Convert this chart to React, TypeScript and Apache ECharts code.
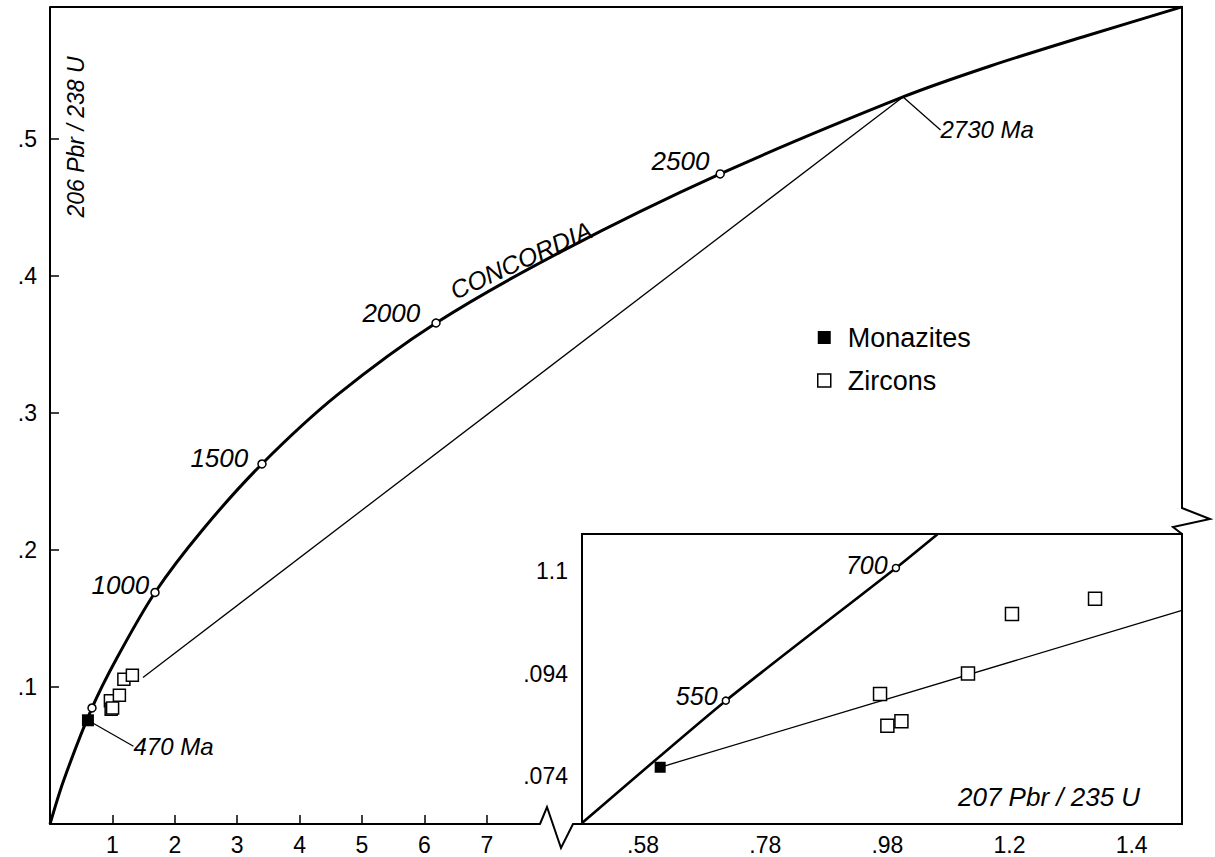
import React, { useEffect, useRef } from "react";
import * as echarts from "echarts";

// ---- Main diagram (207Pb/235U vs 206Pb/238U) ----
const concordiaX = [0, 0.22, 0.673, 1.07, 1.683, 2.45, 3.397, 4.6, 6.186, 8.2, 10.74, 13.67, 15.07, 16.6, 18.14];
const concordiaY = [0, 0.032, 0.0847, 0.121, 0.169, 0.215, 0.2628, 0.313, 0.3657, 0.418, 0.4745, 0.5307, 0.5533, 0.5752, 0.5964];

const ageMarkX = [0.673, 1.683, 3.397, 6.186, 10.74];
const ageMarkY = [0.0847, 0.169, 0.2628, 0.3657, 0.4745];
const ageMarkLabels = ["", "1000", "1500", "2000", "2500"];

const upperIntercept = [13.67, 0.5307];
const upperInterceptLabel = "2730 Ma";
const lowerInterceptLabel = "470 Ma";
const mainDiscordiaX = [1.49, 13.67];
const mainDiscordiaY = [0.107, 0.5307];

const monaziteX = [0.608];
const monaziteY = [0.0757];
const zirconX = [0.968, 0.98, 1.003, 1.112, 1.184, 1.32];
const zirconY = [0.09, 0.0838, 0.0847, 0.094, 0.1056, 0.1086];

const mainXTicks = [1, 2, 3, 4, 5, 6, 7];
const mainYTicks = [0.1, 0.2, 0.3, 0.4, 0.5];

// ---- Inset (enlarged lower part) ----
const insetConcordiaX = [0.48, 0.7155, 0.994, 1.062];
const insetConcordiaY = [0.0648, 0.0887, 0.1146, 0.1212];
const insetAgeX = [0.7155, 0.994];
const insetAgeY = [0.0887, 0.1146];
const insetAgeLabels = ["550", "700"];
const insetDiscordiaX = [0.608, 1.4624];
const insetDiscordiaY = [0.0757, 0.1063];

const insetXTicks = [0.58, 0.68, 0.78, 0.88, 0.98, 1.08, 1.18, 1.28, 1.38];
const insetXLabelValues = [0.58, 0.78, 0.98, 1.18, 1.38];
const insetXLabelTexts = [".58", ".78", ".98", "1.2", "1.4"];
const insetYTicks = [0.074, 0.084, 0.094, 0.104, 0.114];
const insetYLabelValues = [0.074, 0.094, 0.114];
const insetYLabelTexts = [".074", ".094", "1.1"];

const FONT = "'Liberation Sans', Arial, Helvetica, sans-serif";
const pairs = (xs: number[], ys: number[]) => xs.map((x, i) => [x, ys[i]]);
const pick = (vals: number[], texts: string[]) => (v: number) => {
  const i = vals.findIndex((u) => Math.abs(u - v) < 1e-6);
  return i >= 0 ? texts[i] : "";
};

// label placement styling for the age marks (distance from circle, vertical shift)
const AGE_LABEL_STYLE: Record<string, { distance: number; dy: number }> = {
  "1000": { distance: 1, dy: -7 },
  "1500": { distance: 9, dy: -6 },
  "2000": { distance: 11, dy: -10 },
  "2500": { distance: 6, dy: -13 },
  "550": { distance: 4, dy: -5 },
  "700": { distance: 4, dy: -3 },
};

export default function App() {
  const ref = useRef<HTMLDivElement>(null);
  useEffect(() => {
    if (!ref.current) return;
    const chart = echarts.init(ref.current, null, { renderer: "svg" });
    const black = "#000";
    const tickLabel = { color: black, fontSize: 23, fontFamily: FONT };
    const italic = { color: black, fontSize: 24, fontStyle: "italic", fontFamily: FONT, opacity: 1 };
    const ageLabel = (t: string, size: number) => {
      const s = AGE_LABEL_STYLE[t] || { distance: 3, dy: -8 };
      return { show: !!t, position: "left", distance: s.distance, offset: [0, s.dy], ...italic, fontSize: size, formatter: t };
    };
    const option: any = {
      animation: false,
      backgroundColor: "#fff",
      grid: [
        { left: 50, top: 7, width: 1132, height: 817 },
        { left: 50, top: 7, width: 490, height: 817 },
        { left: 582, top: 534, width: 600, height: 290, show: true, backgroundColor: "#fff", borderColor: black, borderWidth: 2, z: 5 },
      ],
      xAxis: [
        {
          gridIndex: 0, type: "value", min: 0, max: 18.141,
          axisLine: { show: false },
          axisTick: { show: true, inside: true, length: 9, customValues: mainXTicks, lineStyle: { color: black, width: 1.5 } },
          axisLabel: { show: true, customValues: mainXTicks, margin: 9, ...tickLabel, formatter: (v: number) => String(v) },
          splitLine: { show: false },
        },
        {
          gridIndex: 1, type: "value", min: 0, max: 7.8526,
          axisLine: { show: true, lineStyle: { color: black, width: 2 } },
          axisTick: { show: false }, axisLabel: { show: false }, splitLine: { show: false },
        },
        {
          gridIndex: 2, type: "value", min: 0.48, max: 1.4624,
          axisLine: { show: true, lineStyle: { color: black, width: 2 } },
          axisTick: { show: true, inside: true, length: 8, customValues: insetXTicks, lineStyle: { color: black, width: 1.5 } },
          axisLabel: { show: true, customValues: insetXLabelValues, margin: 9, ...tickLabel, formatter: pick(insetXLabelValues, insetXLabelTexts) },
          splitLine: { show: false },
        },
      ],
      yAxis: [
        {
          gridIndex: 0, type: "value", min: 0, max: 0.59635,
          axisLine: { show: true, lineStyle: { color: black, width: 2 } },
          axisTick: { show: true, inside: true, length: 9, customValues: mainYTicks, lineStyle: { color: black, width: 1.5 } },
          axisLabel: { show: true, customValues: mainYTicks, margin: 13, ...tickLabel, formatter: (v: number) => "." + Math.round(v * 10) },
          splitLine: { show: false },
        },
        { gridIndex: 1, type: "value", min: 0, max: 0.59635, show: false },
        {
          gridIndex: 2, type: "value", min: 0.064625, max: 0.12123,
          axisLine: { show: true, lineStyle: { color: black, width: 2 } },
          axisTick: { show: true, inside: true, length: 8, customValues: insetYTicks, lineStyle: { color: black, width: 1.5 } },
          axisLabel: { show: true, customValues: insetYLabelValues, margin: 14, ...tickLabel, formatter: pick(insetYLabelValues, insetYLabelTexts) },
          splitLine: { show: false },
        },
      ],
      legend: {
        left: 812, top: 319, orient: "vertical", itemGap: 16, itemWidth: 13, itemHeight: 13,
        textStyle: { color: black, fontSize: 27, fontFamily: FONT, padding: [0, 0, 0, 12] },
        data: [
          { name: "Monazites", icon: "rect", itemStyle: { color: black, borderWidth: 0 } },
          { name: "Zircons", icon: "rect", itemStyle: { color: "#fff", borderColor: black, borderWidth: 1.5 } },
        ],
      },
      graphic: [
        { type: "polyline", z: 10, shape: { points: [[50, 7], [1182, 7], [1182, 508], [1210, 519], [1173, 527], [1182, 534]] }, style: { stroke: black, lineWidth: 2, fill: null } },
        { type: "polyline", z: 10, shape: { points: [[540, 824], [547, 807], [561, 848], [573, 824], [582, 824]] }, style: { stroke: black, lineWidth: 2, fill: null } },
        { type: "text", x: 76, y: 137, rotation: Math.PI / 2, style: { text: "206 Pbr / 238 U", font: `italic 23px ${FONT}`, fill: black, align: "center", verticalAlign: "middle" } },
        { type: "text", x: 521, y: 260, rotation: (24.5 * Math.PI) / 180, style: { text: "CONCORDIA", font: `italic 25px ${FONT}`, fill: black, align: "center", verticalAlign: "middle" } },
        { type: "text", x: 958, y: 797, z: 20, style: { text: "207 Pbr / 235 U", font: `italic 26px ${FONT}`, fill: black, align: "left", verticalAlign: "middle" } },
      ],
      series: [
        // main plot
        { type: "line", xAxisIndex: 0, yAxisIndex: 0, data: pairs(concordiaX, concordiaY), smooth: 0.3, showSymbol: false, lineStyle: { color: black, width: 3 }, z: 2 },
        { type: "line", xAxisIndex: 0, yAxisIndex: 0, data: pairs(mainDiscordiaX, mainDiscordiaY), showSymbol: false, lineStyle: { color: black, width: 1.3 }, z: 2 },
        {
          type: "scatter", xAxisIndex: 0, yAxisIndex: 0, symbol: "circle", symbolSize: 8,
          itemStyle: { color: "#fff", borderColor: black, borderWidth: 1.5, opacity: 1 }, z: 3,
          data: ageMarkX.map((x, i) => ({ value: [x, ageMarkY[i]], label: ageLabel(ageMarkLabels[i], 26) })),
        },
        {
          type: "scatter", xAxisIndex: 0, yAxisIndex: 0, symbolSize: 1, itemStyle: { color: black, opacity: 1 }, z: 3,
          data: [upperIntercept],
          label: { show: true, position: "right", distance: 5, formatter: upperInterceptLabel, ...italic },
          labelLayout: { dx: 32, dy: 33 },
          labelLine: { show: true, lineStyle: { color: black, width: 1.3, opacity: 1 } },
        },
        {
          type: "scatter", xAxisIndex: 0, yAxisIndex: 0, symbolSize: 1, itemStyle: { color: black, opacity: 1 }, z: 3,
          data: pairs(monaziteX, monaziteY),
          label: { show: true, position: "right", distance: 5, formatter: lowerInterceptLabel, ...italic },
          labelLayout: { dx: 40, dy: 26 },
          labelLine: { show: true, lineStyle: { color: black, width: 1.3, opacity: 1 } },
        },
        { name: "Zircons", type: "scatter", xAxisIndex: 0, yAxisIndex: 0, symbol: "rect", symbolSize: 12, data: pairs(zirconX, zirconY), itemStyle: { color: "#fff", borderColor: black, borderWidth: 1.5, opacity: 1 }, z: 4 },
        { name: "Monazites", type: "scatter", xAxisIndex: 0, yAxisIndex: 0, symbol: "rect", symbolSize: 12, data: pairs(monaziteX, monaziteY), itemStyle: { color: black, opacity: 1 }, z: 5 },
        // inset
        { type: "line", xAxisIndex: 2, yAxisIndex: 2, data: pairs(insetConcordiaX, insetConcordiaY), smooth: 0.2, showSymbol: false, lineStyle: { color: black, width: 2.6 }, z: 6 },
        { type: "line", xAxisIndex: 2, yAxisIndex: 2, data: pairs(insetDiscordiaX, insetDiscordiaY), showSymbol: false, lineStyle: { color: black, width: 1.3 }, z: 6 },
        {
          type: "scatter", xAxisIndex: 2, yAxisIndex: 2, symbol: "circle", symbolSize: 7,
          itemStyle: { color: "#fff", borderColor: black, borderWidth: 1.5, opacity: 1 }, z: 7,
          data: insetAgeX.map((x, i) => ({ value: [x, insetAgeY[i]], label: ageLabel(insetAgeLabels[i], 25) })),
        },
        { name: "Zircons", type: "scatter", xAxisIndex: 2, yAxisIndex: 2, symbol: "rect", symbolSize: 13, data: pairs(zirconX, zirconY), itemStyle: { color: "#fff", borderColor: black, borderWidth: 1.5, opacity: 1 }, z: 8 },
        { name: "Monazites", type: "scatter", xAxisIndex: 2, yAxisIndex: 2, symbol: "rect", symbolSize: 11, data: pairs(monaziteX, monaziteY), itemStyle: { color: black, opacity: 1 }, z: 8 },
      ],
    };
    chart.setOption(option);
    return () => chart.dispose();
  }, []);
  return <div ref={ref} style={{ position: "absolute", left: 0, top: 0, width: 1215, height: 857 }} />;
}
